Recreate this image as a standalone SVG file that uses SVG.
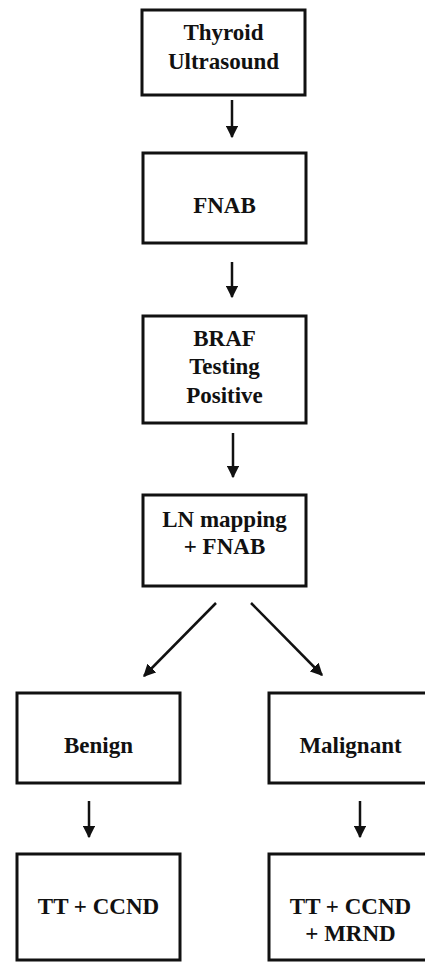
<svg xmlns="http://www.w3.org/2000/svg" width="425" height="962" viewBox="0 0 425 962">
<style>
.box{fill:#fff;stroke:#111;stroke-width:3}
.t{font-family:"Liberation Serif","Times New Roman",serif;font-weight:bold;font-size:23px;fill:#111;text-anchor:middle}
.c{stroke:#111;stroke-width:2.5;fill:none}
</style>
<defs>
<marker id="ah" viewBox="0 0 10 10" refX="9" refY="5" markerWidth="5" markerHeight="5" markerUnits="strokeWidth" orient="auto">
<path d="M0,0 L10,5 L0,10 Z" fill="#111"/>
</marker>
</defs>
<rect width="425" height="962" fill="#fff"/>
<g id="connectors">
<line class="c" x1="232" y1="100" x2="232" y2="137" marker-end="url(#ah)"/>
<line class="c" x1="232" y1="262" x2="232" y2="297" marker-end="url(#ah)"/>
<line class="c" x1="233" y1="433" x2="233" y2="477" marker-end="url(#ah)"/>
<line class="c" x1="216" y1="603" x2="144" y2="676" marker-end="url(#ah)"/>
<line class="c" x1="251" y1="603" x2="322" y2="675" marker-end="url(#ah)"/>
<line class="c" x1="89" y1="801" x2="89" y2="837" marker-end="url(#ah)"/>
<line class="c" x1="360" y1="801" x2="360" y2="837" marker-end="url(#ah)"/>
</g>
<g id="n1"><rect class="box" x="142" y="10" width="163" height="85"/><text class="t" x="223.5" y="40">Thyroid</text><text class="t" x="223.5" y="69">Ultrasound</text></g>
<g id="n2"><rect class="box" x="143" y="153" width="163" height="90"/><text class="t" x="224.5" y="213">FNAB</text></g>
<g id="n3"><rect class="box" x="143" y="316" width="163" height="107"/><text class="t" x="224.5" y="346">BRAF</text><text class="t" x="224.5" y="374">Testing</text><text class="t" x="224.5" y="403">Positive</text></g>
<g id="n4"><rect class="box" x="143" y="495" width="163" height="91"/><text class="t" x="224.5" y="527">LN mapping</text><text class="t" x="224.5" y="554">+ FNAB</text></g>
<g id="n5"><rect class="box" x="17" y="693" width="163" height="90"/><text class="t" x="98.5" y="753">Benign</text></g>
<g id="n6"><rect class="box" x="269" y="693" width="163" height="90"/><text class="t" x="350.5" y="753">Malignant</text></g>
<g id="n7"><rect class="box" x="17" y="854" width="163" height="106"/><text class="t" x="98.5" y="914">TT + CCND</text></g>
<g id="n8"><rect class="box" x="269" y="854" width="163" height="106"/><text class="t" x="350.5" y="914">TT + CCND</text><text class="t" x="350.5" y="941">+ MRND</text></g>
</svg>
